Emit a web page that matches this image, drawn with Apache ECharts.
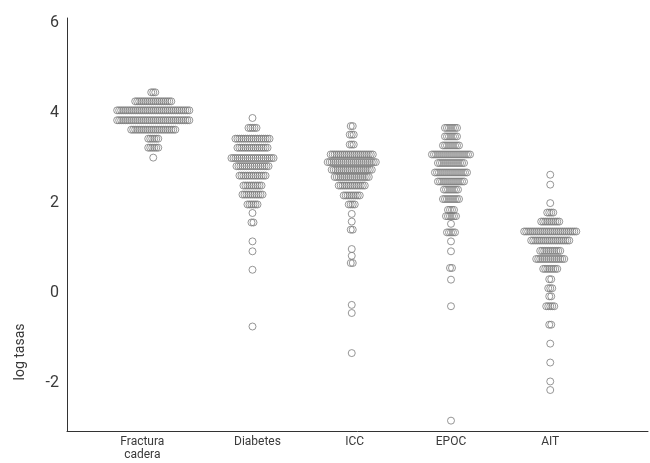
<!DOCTYPE html>
<html>
<head>
<meta charset="utf-8">
<script src="https://cdn.jsdelivr.net/npm/echarts@6/dist/echarts.min.js"></script>
<style>
  html, body { margin: 0; padding: 0; background: #fff; }
  #chart { width: 650px; height: 463px; }
</style>
</head>
<body>
<div id="chart"></div>
<script>
// Group names shown under the x axis
const categories = ['Fractura\ncadera', 'Diabetes', 'ICC', 'EPOC', 'AIT'];

// Binned log rates per group: level of each row and how many areas fall in it
const fracturaLevels = [4.45, 4.25, 4.05, 3.83, 3.62, 3.42, 3.22, 3.0];
const fracturaCounts = [3, 19, 37, 37, 23, 6, 6, 1];

const diabetesLevels = [3.88, 3.66, 3.42, 3.22, 2.99, 2.81, 2.60, 2.38, 2.18, 1.96, 1.77, 1.56, 1.14, 0.92, 0.51, -0.75];
const diabetesCounts = [1, 5, 18, 16, 22, 17, 14, 10, 11, 6, 1, 2, 1, 1, 1, 1];

const iccLevels = [3.70, 3.51, 3.29, 3.07, 2.90, 2.73, 2.57, 2.38, 2.16, 1.96, 1.75, 1.58, 1.40, 0.97, 0.82, 0.66, -0.27, -0.45, -1.34];
const iccCounts = [2, 3, 3, 22, 25, 21, 18, 14, 9, 4, 1, 1, 2, 1, 1, 2, 1, 1, 1];

const epocLevels = [3.66, 3.47, 3.27, 3.07, 2.88, 2.67, 2.47, 2.29, 2.08, 1.84, 1.70, 1.53, 1.34, 1.14, 0.92, 0.55, 0.29, -0.30, -2.84];
const epocCounts = [7, 7, 9, 20, 14, 17, 14, 8, 9, 4, 6, 1, 5, 1, 1, 2, 1, 1, 1];

const aitLevels = [2.62, 2.40, 1.99, 1.78, 1.58, 1.36, 1.16, 0.93, 0.75, 0.53, 0.30, 0.10, -0.08, -0.30, -0.71, -1.13, -1.55, -1.97, -2.16];
const aitCounts = [1, 1, 1, 4, 10, 27, 20, 11, 15, 8, 2, 3, 2, 5, 2, 1, 1, 1, 1];

// Y tick labels
const yTicks = [-2, 0, 2, 4, 6];

// ---- layout settings ----
const groupLevels = [fracturaLevels, diabetesLevels, iccLevels, epocLevels, aitLevels];
const groupCounts = [fracturaCounts, diabetesCounts, iccCounts, epocCounts, aitCounts];
const labelPos = [0.89, 2.05, 3.03, 4.0, 5.0];   // where each group name sits on the x scale
const dotStep = 0.0202;                           // horizontal spacing between dots within a row

// Spread each row of dots symmetrically around its group's centre
function swarm(groupIndex) {
  const centre = groupIndex + 1;
  const levels = groupLevels[groupIndex];
  const counts = groupCounts[groupIndex];
  const pts = [];
  levels.forEach((lv, r) => {
    const n = counts[r];
    for (let j = 0; j < n; j++) {
      pts.push([centre + (j - (n - 1) / 2) * dotStep, lv]);
    }
  });
  return pts;
}

const chart = echarts.init(document.getElementById('chart'), null, { renderer: 'canvas' });

const textColor = '#3a3a3a';
const dotStyle = { color: 'rgba(0,0,0,0)', borderColor: '#7c7c7c', borderWidth: 1 };

chart.setOption({
  animation: false,
  backgroundColor: '#ffffff',
  grid: { left: 67, right: 2, top: 18, bottom: 32, containLabel: false },
  xAxis: {
    type: 'value',
    min: 0.131,
    max: 5.985,
    axisLine: { show: true, onZero: false, lineStyle: { color: '#333', width: 1 } },
    axisTick: { show: false },
    splitLine: { show: false },
    axisLabel: {
      customValues: labelPos,
      margin: 4,
      color: textColor,
      fontSize: 12,
      lineHeight: 13,
      fontFamily: '"Liberation Sans Narrow", Roboto, sans-serif',
      formatter: function (v) {
        const i = labelPos.indexOf(v);
        return i >= 0 ? categories[i] : '';
      }
    }
  },
  yAxis: {
    type: 'value',
    min: -3.07,
    max: 6.1,
    axisLine: { show: true, onZero: false, lineStyle: { color: '#333', width: 1 } },
    axisTick: { show: false },
    splitLine: { show: false },
    axisLabel: {
      customValues: yTicks,
      margin: 8,
      color: textColor,
      fontSize: 16,
      fontFamily: 'Roboto, sans-serif'
    }
  },
  graphic: [{
    type: 'text',
    x: 13,
    y: 352,
    rotation: Math.PI / 2,
    style: {
      text: 'log tasas',
      fontSize: 14,
      fontFamily: 'Roboto, sans-serif',
      fill: textColor,
      align: 'center',
      verticalAlign: 'top'
    }
  }],
  series: categories.map((name, i) => ({
    type: 'scatter',
    name: name,
    data: swarm(i),
    symbol: 'circle',
    symbolSize: 7,
    itemStyle: dotStyle,
    emphasis: { disabled: true }
  }))
});
</script>
</body>
</html>
